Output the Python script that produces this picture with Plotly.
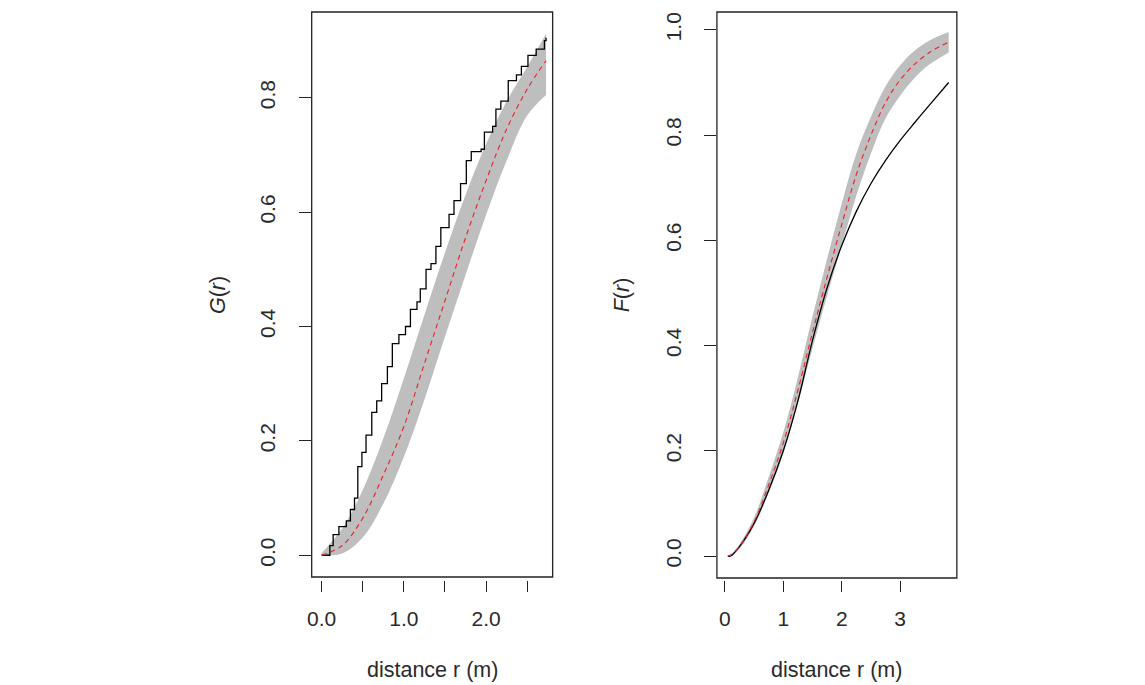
import plotly.graph_objects as go

# ---- left panel: G function ----
g_obs_r = [0.0, 0.10, 0.14, 0.21, 0.30, 0.35, 0.40, 0.44, 0.49, 0.54, 0.61, 0.67,
           0.73, 0.80, 0.86, 0.94, 1.02, 1.08, 1.16, 1.20, 1.27, 1.33, 1.39, 1.45,
           1.55, 1.61, 1.69, 1.76, 1.82, 1.94, 1.98, 2.08, 2.12, 2.18, 2.27, 2.37,
           2.43, 2.51, 2.61, 2.71, 2.73]
g_obs = [0.0, 0.017, 0.036, 0.05, 0.06, 0.08, 0.10, 0.155, 0.18, 0.21, 0.25, 0.27,
         0.30, 0.33, 0.37, 0.386, 0.40, 0.43, 0.443, 0.466, 0.50, 0.51, 0.54, 0.573,
         0.596, 0.62, 0.65, 0.69, 0.706, 0.71, 0.74, 0.75, 0.78, 0.794, 0.83, 0.84,
         0.855, 0.874, 0.885, 0.90, 0.905]

g_r = [0.0, 0.25, 0.5, 0.75, 1.0, 1.25, 1.5, 1.75, 2.0, 2.25, 2.5, 2.73]
g_theo = [0.0, 0.017, 0.065, 0.14, 0.225, 0.335, 0.445, 0.555, 0.655, 0.745, 0.815, 0.865]
g_hi = [0.004, 0.047, 0.114, 0.204, 0.309, 0.42, 0.529, 0.63, 0.719, 0.794, 0.854, 0.912]
g_lo = [0.0, 0.003, 0.031, 0.09, 0.172, 0.272, 0.382, 0.49, 0.595, 0.69, 0.769, 0.805]

# ---- right panel: F function ----
f_r = [0.05, 0.1, 0.25, 0.5, 0.75, 1.0, 1.25, 1.5, 1.75, 2.0, 2.25, 2.5, 2.75,
       3.0, 3.25, 3.5, 3.83]
f_obs = [0.0, 0.0, 0.018, 0.062, 0.125, 0.2, 0.295, 0.41, 0.51, 0.59, 0.655, 0.708,
         0.752, 0.79, 0.824, 0.857, 0.90]
f_theo = [0.0, 0.002, 0.018, 0.065, 0.135, 0.215, 0.315, 0.425, 0.53, 0.63, 0.725,
          0.80, 0.862, 0.905, 0.935, 0.957, 0.977]
f_hi = [0.0, 0.003, 0.022, 0.073, 0.15, 0.235, 0.34, 0.455, 0.565, 0.67, 0.765,
        0.835, 0.893, 0.933, 0.961, 0.98, 0.996]
f_lo = [0.0, 0.001, 0.014, 0.057, 0.12, 0.195, 0.29, 0.395, 0.495, 0.59, 0.685,
        0.765, 0.832, 0.875, 0.909, 0.934, 0.957]

GREY = "#BEBEBE"
FONT = "Liberation Sans, Arial, sans-serif"
W, H = 1145, 685
OFF = 8  # page body margin


def px_x(p):
    return (p - OFF) / W


def px_y(p):
    return 1 - (p - OFF) / H


fig = go.Figure()

panels = [
    ("x", "y", g_r, g_lo, g_hi, g_theo, g_obs_r, g_obs, "hv"),
    ("x2", "y2", f_r, f_lo, f_hi, f_theo, f_r, f_obs, "spline"),
]
for xa, ya, r, lo, hi, theo, obs_r, obs, shape in panels:
    fig.add_trace(go.Scatter(x=r, y=lo, mode="lines", line=dict(width=0, color=GREY, shape="spline"),
                             xaxis=xa, yaxis=ya, showlegend=False, hoverinfo="skip"))
    fig.add_trace(go.Scatter(x=r, y=hi, mode="lines", line=dict(width=0, color=GREY, shape="spline"),
                             fill="tonexty", fillcolor=GREY,
                             xaxis=xa, yaxis=ya, showlegend=False, hoverinfo="skip"))
    fig.add_trace(go.Scatter(x=obs_r, y=obs, mode="lines",
                             line=dict(color="black", width=1.3, shape=shape),
                             xaxis=xa, yaxis=ya, showlegend=False))
    fig.add_trace(go.Scatter(x=r, y=theo, mode="lines",
                             line=dict(color="#E8202A", width=1.1, dash="5px,4px", shape="spline"),
                             xaxis=xa, yaxis=ya, showlegend=False))

tickfont = dict(family=FONT, size=21, color="#2a2a2a")
xcommon = dict(showgrid=False, zeroline=False, showline=False, ticks="outside",
               ticklen=11, tickwidth=1.2, tickcolor="#222222", tickfont=tickfont,
               anchor="free", position=px_y(580), ticklabelstandoff=9)
ycommon = dict(showgrid=False, zeroline=False, showline=False, ticks="outside",
               ticklen=12, tickwidth=1.2, tickcolor="#222222", tickfont=tickfont,
               tickangle=-90, ticklabelstandoff=15)

fig.update_layout(
    width=W, height=H, autosize=False,
    margin=dict(l=0, r=0, t=0, b=0),
    paper_bgcolor="white", plot_bgcolor="white",
    xaxis=dict(domain=[px_x(308), px_x(550)], range=[-0.121, 2.81],
               tickvals=[0, 0.5, 1, 1.5, 2, 2.5], ticktext=["0.0", "", "1.0", "", "2.0", ""],
               **xcommon),
    yaxis=dict(domain=[px_y(577), px_y(12)], range=[-0.038, 0.950],
               tickvals=[0, 0.2, 0.4, 0.6, 0.8], ticktext=["0.0", "0.2", "0.4", "0.6", "0.8"],
               anchor="x", **ycommon),
    xaxis2=dict(domain=[px_x(715), px_x(956)], range=[-0.136, 3.97],
                tickvals=[0, 1, 2, 3], ticktext=["0", "1", "2", "3"], **xcommon),
    yaxis2=dict(domain=[px_y(578), px_y(12)], range=[-0.0418, 1.034],
                tickvals=[0, 0.2, 0.4, 0.6, 0.8, 1.0],
                ticktext=["0.0", "0.2", "0.4", "0.6", "0.8", "1.0"],
                anchor="x2", **ycommon),
)

# plot frames
for xa, ya in [("x", "y"), ("x2", "y2")]:
    fig.add_shape(type="rect", xref=f"{xa} domain", yref=f"{ya} domain",
                  x0=0, x1=1, y0=0, y1=1, line=dict(color="#222222", width=1.3))

# axis titles
labfont = dict(family=FONT, size=21.5, color="#2a2a2a")
titles = [
    ("distance r (m)", 429, 670, 0),
    ("distance r (m)", 835, 670, 0),
    ("<i>G</i>(<i>r</i>)", 214, 295, -90),
    ("<i>F</i>(<i>r</i>)", 620, 295, -90),
]
for txt, tx, ty, ang in titles:
    fig.add_annotation(text=txt, x=px_x(tx), y=px_y(ty), xref="paper", yref="paper",
                       xanchor="center", yanchor="middle", showarrow=False,
                       textangle=ang, font=labfont)

fig.write_html("out.html")
